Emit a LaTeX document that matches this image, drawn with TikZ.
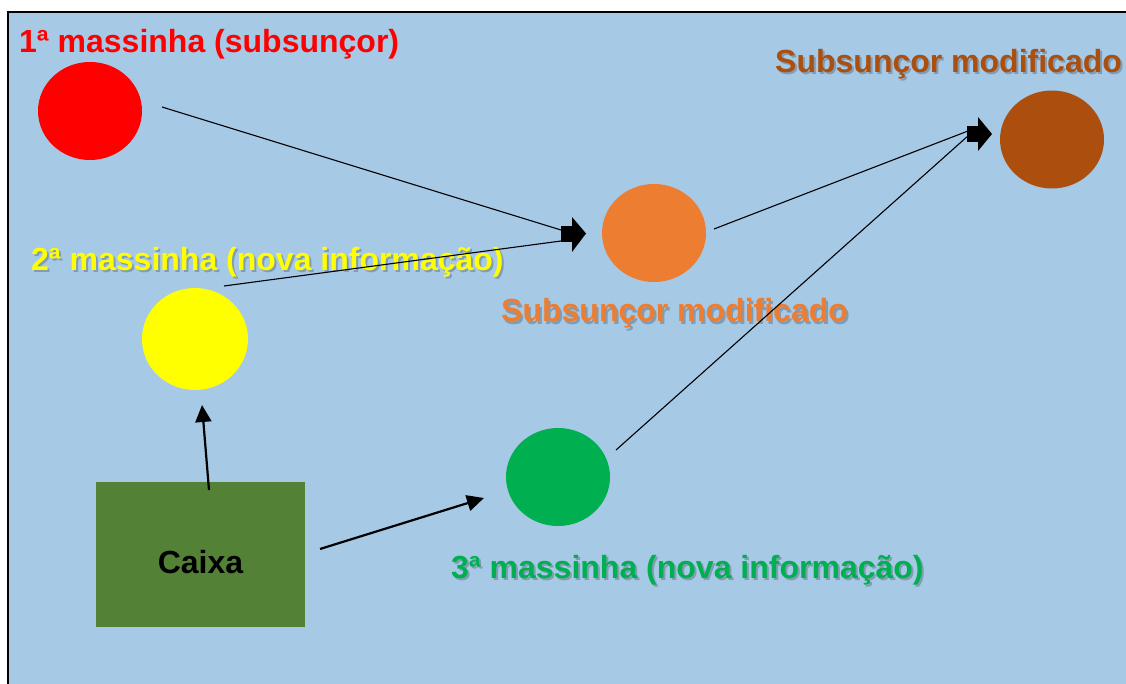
\documentclass[tikz,border=0pt]{standalone}
\usepackage{fontspec}
\setmainfont{Liberation Sans}
\usetikzlibrary{shapes.geometric,arrows.meta}
\definecolor{bgblue}{HTML}{A6C9E6}
\definecolor{mred}{HTML}{FF0000}
\definecolor{myellow}{HTML}{FFFF00}
\definecolor{morange}{HTML}{ED7D31}
\definecolor{mbrown}{HTML}{AB4E0E}
\definecolor{mgreen}{HTML}{00B050}
\definecolor{boxgreen}{HTML}{538135}
\tikzset{
  blob/.style={ellipse, draw=none, inner sep=0pt, minimum width=104pt, minimum height=98pt},
  lbl/.style={font=\fontsize{32}{38}\selectfont\bfseries, inner sep=0pt, anchor=base west},
  shadowlbl/.style={lbl, text=black, opacity=0.22},
  thinline/.style={line width=1.1pt, black},
  thickarrow/.style={line width=2.2pt, black, -{Triangle[length=17pt,width=16pt]}},
}
\begin{document}
\begin{tikzpicture}[x=1pt,y=-1pt]
\useasboundingbox (0,0) rectangle (1126,684);
\clip (0,0) rectangle (1126,684);
\fill[white] (0,0) rectangle (1126,684);
\draw[fill=bgblue, draw=black, line width=2.5pt] (8,12) rectangle (1150,710);

% circles
\node[blob, fill=mred] (red) at (90,111) {};
\node[blob, fill=myellow, minimum width=106pt, minimum height=102pt] (yellow) at (195,339) {};
\node[blob, fill=morange] (orange) at (654,233) {};
\node[blob, fill=mbrown] (brown) at (1052,139.5) {};
\node[blob, fill=mgreen] (green) at (558,477) {};

% box
\node[rectangle, fill=boxgreen, minimum width=209pt, minimum height=145pt, inner sep=0pt] (caixa) at (200.5,554.5) {};
\node[lbl, anchor=base] (caixaT) at (200.5,573) {Caixa};

% labels
\node[lbl, text=mred] (lred) at (19,53) {1ª massinha (subsunçor)};
\node[shadowlbl] at (33,273) {2ª massinha (nova informação)};
\node[lbl, text=myellow] (lyellow) at (31,271) {2ª massinha (nova informação)};
\node[shadowlbl] at (503,324) {Subsunçor modificado};
\node[lbl, text=morange] (lorange) at (501,322) {Subsunçor modificado};
\node[shadowlbl] at (777,75) {Subsunçor modificado};
\node[lbl, text=mbrown] (lbrown) at (775,73) {Subsunçor modificado};
\node[shadowlbl] at (453,580) {3ª massinha (nova informação)};
\node[lbl, text=mgreen] (lgreen) at (451,578) {3ª massinha (nova informação)};

% connector end points
\coordinate (sRed) at (162,107);
\coordinate (sYellow) at (224,286);
\coordinate (sOrange) at (714,229);
\coordinate (sGreen) at (616,450);
\coordinate (tipO) at (561,234);
\coordinate (tipOa) at (561,230);
\coordinate (tipOb) at (561,241);
\coordinate (tipB) at (967,134);
\coordinate (tipBa) at (968,131);
\coordinate (tipBb) at (969,135);

\draw[thinline] (sRed) -- (tipOa);
\draw[thinline] (sYellow) -- (tipOb);
\draw[thinline] (sOrange) -- (tipBa);
\draw[thinline] (sGreen) -- (tipBb);

% block arrow heads
\fill[black] ([shift={(0,-8)}]tipO) rectangle ++(11,16);
\fill[black] ([shift={(11,-17)}]tipO) -- ([shift={(25,-0.5)}]tipO) -- ([shift={(11,18)}]tipO) -- cycle;
\fill[black] ([shift={(0,-8)}]tipB) rectangle ++(11,16);
\fill[black] ([shift={(11,-17)}]tipB) -- ([shift={(25,0)}]tipB) -- ([shift={(11,17)}]tipB) -- cycle;

% caixa arrows
\coordinate (cUp) at (209,490);
\coordinate (tUp) at (202,405);
\coordinate (cRight) at (320,549);
\coordinate (tRight) at (484,498);
\draw[thickarrow] (cUp) -- (tUp);
\draw[thickarrow] (cRight) -- (tRight);
\end{tikzpicture}
\end{document}
